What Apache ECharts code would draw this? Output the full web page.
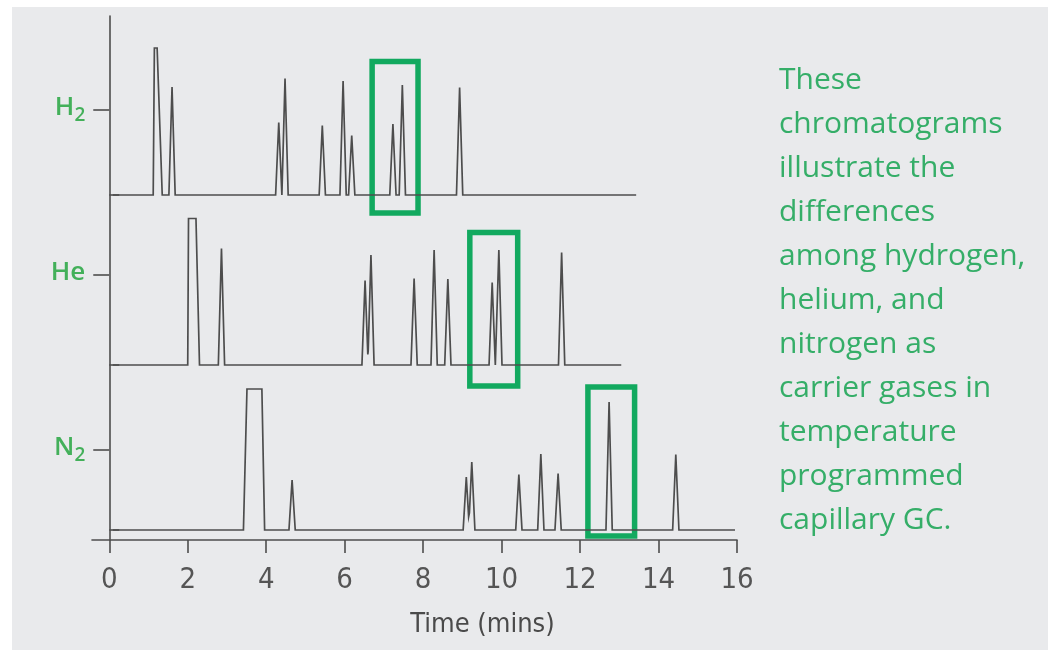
<!DOCTYPE html>
<html>
<head>
<meta charset="utf-8">
<title>Carrier gas chromatograms</title>
<script src="https://cdn.jsdelivr.net/npm/echarts@6/dist/echarts.min.js"></script>
<style>
  html, body { margin: 0; padding: 0; background: #ffffff; }
  #chart { position: absolute; left: 12px; top: 7px; width: 1036px; height: 643px; background: #e9eaec; }
</style>
</head>
<body>
<div id="chart"></div>
<script>
// Time axis ticks (minutes)
const X_TICKS = [0, 2, 4, 6, 8, 10, 12, 14, 16];
const X_MIN = -0.44;
const X_MAX = 16;

// Carrier gases, the level each label sits at, and each trace's baseline level
const GASES = ['H2', 'He', 'N2'];
const LABEL_LEVELS = [86, 53, 18];
const BASELINES = [69, 35, 2];

// Run window of each trace (minutes)
const RUN_START = 0.09;
const RUN_ENDS = [13.43, 13.05, 15.95];

// Half width of an ordinary peak at its foot (minutes)
const PEAK_HALF_WIDTH = 0.08;

// Overloaded solvent peak: foot start, top start, top end, foot end, height
const H2_SOLVENT = [1.12, 1.15, 1.22, 1.35, 29.4];
const HE_SOLVENT = [2.00, 2.02, 2.21, 2.30, 29.3];
const N2_SOLVENT = [3.42, 3.51, 3.89, 3.96, 28.2];

// Retention times (minutes) and heights of the analyte peaks
const H2_TIMES   = [1.60, 4.32, 4.48, 5.43, 5.96, 6.18, 7.23, 7.47, 8.93];
const H2_HEIGHTS = [21.6, 14.5, 23.3, 13.9, 22.8, 11.9, 14.2, 22.0, 21.5];

const HE_TIMES   = [2.86, 6.52, 6.67, 7.77, 8.28, 8.63, 9.76, 9.93, 11.53];
const HE_HEIGHTS = [23.3, 16.9, 22.0, 17.3, 23.0, 17.2, 16.5, 23.0, 22.5];

const N2_TIMES   = [4.66, 9.10, 9.24, 10.44, 11.00, 11.44, 12.74, 14.44];
const N2_HEIGHTS = [10.0, 10.6, 13.6, 11.1, 15.2, 11.3, 25.6, 15.1];

// Highlighted elution window per trace: [time from, time to, level low, level high]
const H2_WINDOW = [6.70, 7.87, 65.4, 95.7];
const HE_WINDOW = [9.19, 10.41, 30.8, 61.5];
const N2_WINDOW = [12.20, 13.39, 0.8, 30.6];

const CAPTION = [
  'These', 'chromatograms', 'illustrate the', 'differences',
  'among hydrogen,', 'helium, and', 'nitrogen as', 'carrier gases in',
  'temperature', 'programmed', 'capillary GC.'
];

const GREEN_TEXT = '#35ae68';
const GREEN_LABEL = '#43b05a';
const GREEN_BOX = '#12a95f';
const INK = '#4d4d4d';
const NARROW = 'Liberation Sans Narrow, DejaVu Sans Condensed, sans-serif';

// Plot area in container pixels
const GRID = { left: 80, right: 311, top: 9, bottom: 110 };
const PLOT_WIDTH = 1036 - GRID.left - GRID.right;
// The level axis stands at time 0, a little inside the left edge of the plot
const Y_AXIS_SHIFT = -(0 - X_MIN) * PLOT_WIDTH / (X_MAX - X_MIN);

// Turn solvent + analyte peaks into a polyline of (time, level) vertices.
function buildTrace(base, start, end, solvent, times, heights) {
  const shapes = [{ fl: solvent[0], tl: solvent[1], tr: solvent[2], fr: solvent[3], h: solvent[4] }];
  times.forEach((t, i) => {
    shapes.push({ fl: t - PEAK_HALF_WIDTH, tl: t, tr: t, fr: t + PEAK_HALF_WIDTH, h: heights[i] });
  });
  const height = (x, s) => {
    if (x <= s.fl || x >= s.fr) return 0;
    if (x < s.tl) return s.h * (x - s.fl) / (s.tl - s.fl);
    if (x <= s.tr) return s.h;
    return s.h * (s.fr - x) / (s.fr - s.tr);
  };
  const xs = [start, end];
  shapes.forEach(s => xs.push(s.fl, s.tl, s.tr, s.fr));
  const uniq = Array.from(new Set(xs.map(x => +x.toFixed(4)))).sort((a, b) => a - b);
  return uniq.map(x => [x, base + Math.max(0, ...shapes.map(s => height(x, s)))]);
}

function windowArea(w) {
  return [[{ coord: [w[0], w[3]] }, { coord: [w[1], w[2]] }]];
}

const traces = [
  { data: buildTrace(BASELINES[0], RUN_START, RUN_ENDS[0], H2_SOLVENT, H2_TIMES, H2_HEIGHTS), win: H2_WINDOW },
  { data: buildTrace(BASELINES[1], RUN_START, RUN_ENDS[1], HE_SOLVENT, HE_TIMES, HE_HEIGHTS), win: HE_WINDOW },
  { data: buildTrace(BASELINES[2], RUN_START, RUN_ENDS[2], N2_SOLVENT, N2_TIMES, N2_HEIGHTS), win: N2_WINDOW }
];

// Element symbol with its atom count set as a lowered subscript
function gasLabel(name) {
  const m = name.match(/^([A-Za-z]+)(\d*)$/);
  return '{b|' + m[1] + '}' + (m[2] ? '{s|' + m[2] + '}' : '');
}

const chart = echarts.init(document.getElementById('chart'), null, { renderer: 'canvas' });

chart.setOption({
  animation: false,
  backgroundColor: 'transparent',
  title: {
    text: CAPTION.join('\n'),
    left: 767,
    top: 51,
    padding: 0,
    textStyle: {
      fontFamily: 'Open Sans',
      fontSize: 30,
      fontWeight: 'normal',
      lineHeight: 44,
      color: GREEN_TEXT
    }
  },
  grid: { left: GRID.left, right: GRID.right, top: GRID.top, bottom: GRID.bottom, containLabel: false },
  xAxis: {
    type: 'value',
    min: X_MIN,
    max: X_MAX,
    name: 'Time (mins)',
    nameLocation: 'middle',
    nameGap: 71,
    nameTextStyle: { fontFamily: NARROW, fontSize: 27, color: '#4a4a4a', padding: [0, 0, 0, 136] },
    axisLine: { show: true, onZero: false, lineStyle: { color: INK, width: 1.6 } },
    axisTick: { show: true, length: 13, customValues: X_TICKS, lineStyle: { color: INK, width: 1.6 } },
    axisLabel: {
      customValues: X_TICKS,
      margin: 26,
      fontFamily: NARROW,
      fontSize: 29,
      color: '#555555'
    },
    splitLine: { show: false }
  },
  yAxis: [
    {
      type: 'value',
      min: 0,
      max: 104.8,
      position: 'left',
      offset: Y_AXIS_SHIFT,
      axisLine: { show: true, onZero: false, lineStyle: { color: INK, width: 1.6 } },
      axisTick: { show: true, length: 16, customValues: LABEL_LEVELS, lineStyle: { color: INK, width: 1.6 } },
      axisLabel: {
        customValues: LABEL_LEVELS,
        margin: 24,
        formatter: v => gasLabel(GASES[LABEL_LEVELS.indexOf(v)]),
        rich: {
          b: { fontFamily: 'Open Sans', fontSize: 26, fontWeight: 600, lineHeight: 30, verticalAlign: 'top', color: GREEN_LABEL },
          s: { fontFamily: 'Open Sans', fontSize: 19, fontWeight: 600, lineHeight: 18, verticalAlign: 'bottom', color: GREEN_LABEL }
        }
      },
      splitLine: { show: false }
    },
    {
      type: 'value',
      min: 0,
      max: 104.8,
      position: 'left',
      offset: Y_AXIS_SHIFT,
      axisLine: { show: false, onZero: false },
      axisTick: { show: true, inside: true, length: 10, customValues: BASELINES, lineStyle: { color: INK, width: 1.6 } },
      axisLabel: { show: false },
      splitLine: { show: false }
    }
  ],
  series: traces.map((tr, i) => ({
    name: GASES[i],
    type: 'line',
    data: tr.data,
    showSymbol: false,
    symbol: 'none',
    lineStyle: { color: INK, width: 1.7, join: 'miter' },
    silent: true,
    markArea: {
      silent: true,
      itemStyle: { color: 'rgba(0,0,0,0)', borderColor: GREEN_BOX, borderWidth: 5.5 },
      data: windowArea(tr.win)
    }
  }))
});
</script>
</body>
</html>
